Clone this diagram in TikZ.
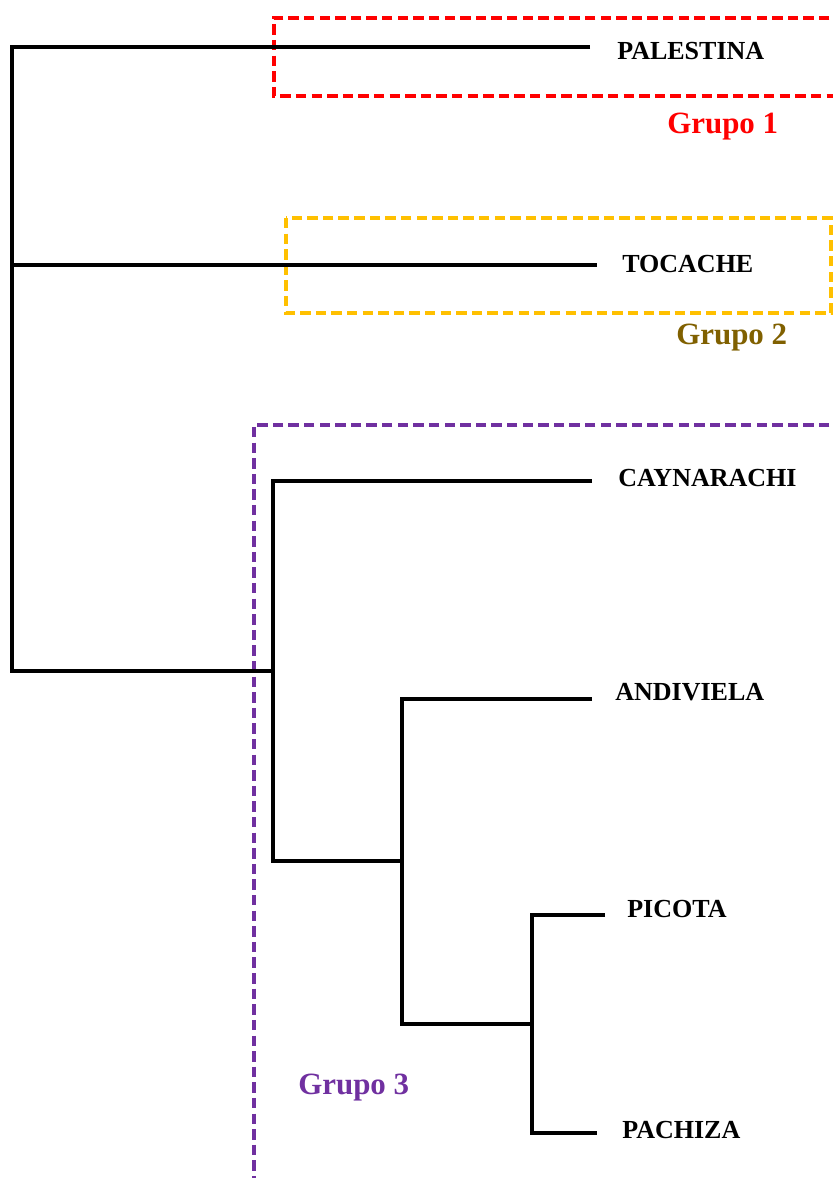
\documentclass[tikz,border=0pt]{standalone}
\usepackage{fontspec}
\setmainfont{Liberation Serif}
\usetikzlibrary{positioning}
\definecolor{GroupRed}{RGB}{255,0,0}
\definecolor{GroupYellow}{RGB}{255,192,0}
\definecolor{GroupBrown}{RGB}{128,96,0}
\definecolor{GroupPurple}{RGB}{112,48,160}

\begin{document}
\begin{tikzpicture}[x=0.025cm, y=-0.025cm,
    branch/.style={line width=2.5pt, line join=miter},
    groupbox/.style={line width=2.7pt, dash pattern=on 0.26cm off 0.13cm},
    leaf/.style={inner sep=0pt, anchor=west, font=\bfseries\fontsize{18.5}{20}\selectfont},
    grouplabel/.style={inner sep=0pt, anchor=base west, font=\bfseries\fontsize{22}{24}\selectfont}]
      \useasboundingbox (0,0) rectangle (833,1178);
      % group frames
      \draw[groupbox, GroupRed] (845,18) -- (274,18) -- (274,96) -- (845,96);
      \draw[groupbox, GroupYellow] (286,218) rectangle (831,313);
      \draw[groupbox, GroupPurple] (845,425) -- (254,425) -- (254,1190);
      % branch points and tips
      \coordinate (r) at (12,265);
      \coordinate (c1) at (273,671);
      \coordinate (c2) at (402,861);
      \coordinate (c3) at (532,1024);
      \coordinate (tPal) at (590,47);
      \coordinate (tToc) at (597,265);
      \coordinate (tCay) at (592,481);
      \coordinate (tAnd) at (592,699);
      \coordinate (tPic) at (605,915);
      \coordinate (tPac) at (597,1133);
      \draw[branch] (tPal) -| (r) |- (c1);
      \draw[branch] (r) -- (tToc);
      \draw[branch] (tCay) -| (c1) |- (c2);
      \draw[branch] (tAnd) -| (c2) |- (c3);
      \draw[branch] (tPic) -| (c3) |- (tPac);
      % names
      \node[leaf] (pal) at (617,51) {PALESTINA};
      \node[leaf] (toc) at (622,264) {TOCACHE};
      \node[leaf] (cay) at (618,478) {CAYNARACHI};
      \node[leaf] (and) at (615,692) {ANDIVIELA};
      \node[leaf] (pic) at (627,909) {PICOTA};
      \node[leaf] (pac) at (622,1130) {PACHIZA};
      \node[grouplabel, GroupRed] (g1) at (667,133) {Grupo 1};
      \node[grouplabel, GroupBrown] (g2) at (676,344) {Grupo 2};
      \node[grouplabel, GroupPurple] (g3) at (298,1094) {Grupo 3};
\end{tikzpicture}
\end{document}
